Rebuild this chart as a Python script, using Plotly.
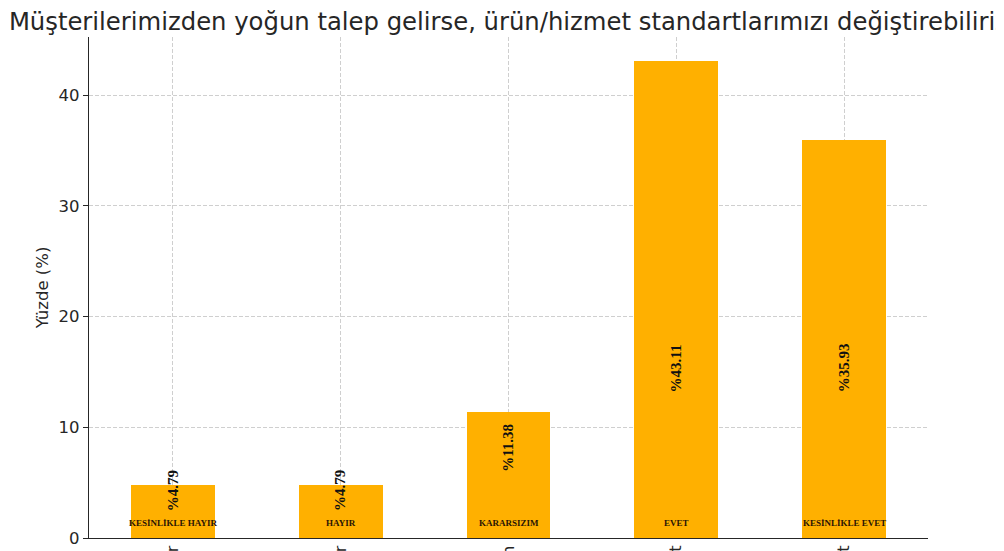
import plotly.graph_objects as go

# ---- data ----
categories = ["KESİNLİKLE HAYIR", "HAYIR", "KARARSIZIM", "EVET", "KESİNLİKLE EVET"]
tick_labels = ["Kesinlikle Hayır", "Hayır", "Kararsızım", "Evet", "Kesinlikle Evet"]
values = [4.79, 4.79, 11.38, 43.11, 35.93]
value_labels = ["%4.79", "%4.79", "%11.38", "%43.11", "%35.93"]
y_ticks = [0, 10, 20, 30, 40]

title_text = "Müşterilerimizden yoğun talep gelirse, ürün/hizmet standartlarımızı değiştirebiliriz"

# ---- styling / placement constants ----
BAR_COLOR = "#FFB000"
LABEL_Y = [4.3, 4.3, 8.1, 15.35, 15.35]   # vertical centre of rotated value labels
CAT_LABEL_Y = 1.38
x_pos = list(range(len(categories)))

W, H = 996, 543   # page body has an 8px margin

fig = go.Figure()
fig.add_trace(go.Bar(
    x=x_pos, y=values, width=0.5,
    marker=dict(color=BAR_COLOR, line=dict(width=0)),
    hoverinfo="skip",
))

for i, (lab, ly, cat) in enumerate(zip(value_labels, LABEL_Y, categories)):
    fig.add_annotation(
        x=i, y=ly, xref="x", yref="y", text="<b>%s</b>" % lab,
        textangle=-90, showarrow=False,
        font=dict(family="Liberation Serif, DejaVu Serif, serif", size=15, color="#111111"),
        xanchor="center", yanchor="middle",
    )
    fig.add_annotation(
        x=i, y=CAT_LABEL_Y, xref="x", yref="y", text="<b>%s</b>" % cat,
        showarrow=False,
        font=dict(family="Liberation Serif, DejaVu Serif, serif", size=9, color="#2a1505"),
        xanchor="center", yanchor="middle",
    )

fig.update_layout(
    width=W, height=H,
    margin=dict(l=81, r=76, t=29, b=13, pad=0),
    paper_bgcolor="white", plot_bgcolor="white",
    showlegend=False,
    title=dict(
        text=title_text, x=500.5 / W, xref="container", xanchor="center",
        y=1 - 13 / H, yref="container", yanchor="middle",
        font=dict(family="DejaVu Sans", size=24.3, color="#262626"),
    ),
    bargap=0,
)

fig.update_xaxes(
    range=[-0.5, 4.5], tickmode="array", tickvals=x_pos, ticktext=tick_labels,
    tickangle=-90, ticks="", ticklen=4, tickcolor="#262626",
    tickfont=dict(family="DejaVu Sans", size=16, color="#262626"),
    showline=True, linecolor="#262626", linewidth=1.3,
    showgrid=True, gridcolor="#cfcfcf", gridwidth=1, griddash="4px,2px",
    zeroline=False, automargin=False, layer="above traces", mirror=False,
)
fig.update_yaxes(
    range=[0, 45.26], tickmode="array", tickvals=y_ticks,
    ticks="outside", ticklen=5, tickcolor="#262626",
    tickfont=dict(family="DejaVu Sans", size=16.5, color="#262626"),
    title=dict(text="Yüzde (%)", font=dict(family="DejaVu Sans", size=16.5, color="#262626"), standoff=5),
    showline=True, linecolor="#262626", linewidth=1.3,
    showgrid=True, gridcolor="#cfcfcf", gridwidth=1, griddash="4px,2px",
    zeroline=False, automargin=False, layer="above traces", mirror=False,
)

fig.write_html("out.html")
